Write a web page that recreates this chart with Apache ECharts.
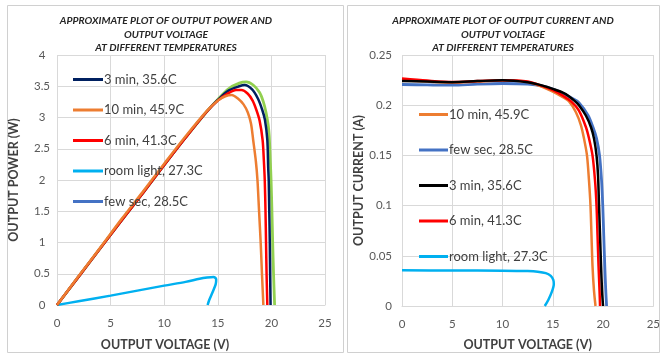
<!DOCTYPE html>
<html>
<head>
    <meta charset="utf-8" />
    <title>Output power / current vs voltage</title>
    <style>
        html, body { margin: 0; padding: 0; background: #fff; }
        #chart { width: 663px; height: 356px; }
    </style>
</head>
<body>
    <div id="chart"></div>
    <script src="https://cdn.jsdelivr.net/npm/echarts@6/dist/echarts.min.js"></script>
    <script type="text/javascript">
        // x axis ticks (both charts)
        const voltTicks = [0, 5, 10, 15, 20, 25];
        const powerTicks = [0, 0.5, 1, 1.5, 2, 2.5, 3, 3.5, 4];
        const currentTicks = [0, 0.05, 0.1, 0.15, 0.2, 0.25];

        // left chart: [voltage V, power W]
        const powerFewSec = [[0, 0], [2, 0.45], [4, 0.9], [6, 1.35], [8, 1.79], [10, 2.24], [12, 2.68], [14, 3.1], [15, 3.29], [16, 3.46], [17, 3.55], [17.65, 3.57], [18.3, 3.52], [18.9, 3.4], [19.25, 3.25], [19.5, 3.08], [19.7, 2.88], [19.8, 2.7], [19.9, 2.3], [19.97, 2.0], [20.05, 1.5], [20.12, 1.0], [20.2, 0.5], [20.3, 0]];
        const power3min = [[0, 0], [2, 0.45], [4, 0.9], [6, 1.35], [8, 1.79], [10, 2.24], [12, 2.68], [14, 3.1], [15, 3.28], [16, 3.43], [17, 3.5], [17.5, 3.52], [18.2, 3.45], [18.75, 3.3], [19.15, 3.12], [19.4, 2.96], [19.62, 2.64], [19.7, 2.2], [19.75, 2.0], [19.8, 1.5], [19.85, 1.0], [19.88, 0.5], [19.92, 0]];
        const power6min = [[0, 0], [2, 0.45], [4, 0.9], [6, 1.35], [8, 1.79], [10, 2.24], [12, 2.68], [14, 3.1], [15, 3.27], [16, 3.39], [16.7, 3.44], [17.2, 3.44], [17.8, 3.38], [18.25, 3.27], [18.6, 3.12], [18.9, 2.95], [19.18, 2.64], [19.3, 2.3], [19.38, 2.0], [19.45, 1.5], [19.5, 1.0], [19.55, 0.5], [19.62, 0]];
        const power10min = [[0, 0], [2, 0.46], [4, 0.91], [6, 1.37], [8, 1.81], [10, 2.26], [12, 2.7], [14, 3.11], [15, 3.27], [15.7, 3.34], [16.3, 3.36], [16.9, 3.3], [17.4, 3.21], [17.8, 3.08], [18.1, 2.9], [18.3, 2.64], [18.55, 2.3], [18.7, 2.0], [18.85, 1.5], [19.0, 1.0], [19.12, 0.5], [19.25, 0]];
        const powerRoom = [[0, 0], [2, 0.06], [5, 0.15], [7.5, 0.23], [10, 0.31], [12, 0.37], [13.3, 0.42], [14, 0.44], [14.6, 0.45], [14.85, 0.41], [14.8, 0.33], [14.5, 0.2], [14.2, 0.08], [14.05, 0]];

        // right chart: [voltage V, current A]
        const currFewSec = [[0, 0.2206], [2.5, 0.2202], [5, 0.2199], [7.5, 0.221], [10, 0.2216], [12.5, 0.221], [14, 0.219], [15, 0.216], [16, 0.212], [17, 0.2065], [17.6, 0.2026], [18.5, 0.19], [19.0, 0.178], [19.35, 0.167], [19.65, 0.15], [19.85, 0.125], [19.97, 0.1], [20.07, 0.07], [20.17, 0.04], [20.27, 0.015], [20.35, 0]];
        const curr3min = [[0, 0.2242], [2.5, 0.2235], [5, 0.2229], [7.5, 0.224], [10, 0.2248], [12.5, 0.2228], [14, 0.2195], [15, 0.2162], [16, 0.2125], [16.6, 0.209], [17.2, 0.204], [17.6, 0.2], [18.3, 0.1895], [18.8, 0.178], [19.1, 0.1667], [19.35, 0.15], [19.5, 0.13], [19.6, 0.1], [19.7, 0.07], [19.8, 0.04], [19.9, 0.015], [20.0, 0]];
        const curr6min = [[0, 0.2265], [2.5, 0.2245], [5, 0.2232], [7.5, 0.224], [10, 0.2248], [12.5, 0.2236], [14, 0.219], [15, 0.215], [16, 0.2095], [16.9, 0.203], [17.6, 0.1945], [18.3, 0.178], [18.6, 0.167], [18.95, 0.15], [19.2, 0.125], [19.35, 0.1], [19.45, 0.07], [19.55, 0.04], [19.65, 0.015], [19.7, 0]];
        const curr10min = [[0, 0.2248], [2.5, 0.2235], [5, 0.2225], [7.5, 0.2235], [10, 0.2245], [12.5, 0.223], [14, 0.218], [15, 0.2135], [16, 0.208], [16.6, 0.204], [17.3, 0.193], [17.8, 0.18], [18.1, 0.167], [18.4, 0.15], [18.6, 0.125], [18.75, 0.1], [18.85, 0.07], [18.95, 0.04], [19.1, 0.015], [19.25, 0]];
        const currRoom = [[0, 0.0355], [5, 0.0354], [10, 0.0352], [12.5, 0.0348], [13.5, 0.0342], [14.3, 0.0328], [14.8, 0.03], [15.05, 0.026], [15.1, 0.022], [14.9, 0.014], [14.55, 0.006], [14.2, 0]];

        const nameFew = 'few sec, 28.5C';
        const name3 = '3 min, 35.6C';
        const name6 = '6 min, 41.3C';
        const name10 = '10 min, 45.9C';
        const nameRoom = 'room light, 27.3C';

        const FONT = 'Lato, "Open Sans", sans-serif';
        const gridColor = '#d9d9d9';

        const chart = echarts.init(document.getElementById('chart'));

        function legendItem(name, color) {
            return { name: name, itemStyle: { color: color }, lineStyle: { color: color } };
        }
        function line(name, data, color, idx, width) {
            return {
                type: 'line', name: name, data: data,
                xAxisIndex: idx, yAxisIndex: idx,
                symbol: 'none', smooth: 0.3,
                lineStyle: { color: color, width: width || 2.5 },
                itemStyle: { color: color },
                animation: false
            };
        }
        function xAx(idx, gap, pad, margin) {
            return {
                type: 'value', gridIndex: idx, min: 0, max: 25, interval: 5,
                name: 'OUTPUT VOLTAGE (V)', nameLocation: 'middle', nameGap: gap,
                nameTextStyle: { fontFamily: FONT, fontWeight: 'bold', fontSize: 12.5, color: '#404040', padding: pad },
                axisLine: { lineStyle: { color: gridColor } },
                axisTick: { show: false },
                axisLabel: { fontFamily: FONT, fontSize: 11.5, color: '#595959', margin: margin,
                    customValues: voltTicks },
                splitLine: { lineStyle: { color: gridColor } }
            };
        }
        function yAx(idx, max, interval, name, gap, label) {
            return {
                type: 'value', gridIndex: idx, min: 0, max: max, interval: interval,
                name: name, nameLocation: 'middle', nameGap: gap, nameRotate: 90,
                nameTextStyle: { fontFamily: FONT, fontWeight: 'bold', fontSize: 12.5, color: '#404040' },
                axisLine: { show: false }, axisTick: { show: false },
                axisLabel: Object.assign({ fontFamily: FONT, fontSize: 11.5, color: '#595959' }, label),
                splitLine: { lineStyle: { color: gridColor } }
            };
        }
        const titleStyle = { fontFamily: FONT, fontSize: 10.3, fontWeight: 'bold', fontStyle: 'italic', color: '#262626', lineHeight: 13.6 };

        const option = {
            backgroundColor: '#fff',
            animation: false,
            graphic: [
                { type: 'rect', shape: { x: 7.5, y: 5.5, width: 336, height: 347 }, style: { fill: 'none', stroke: '#d0d0d0', lineWidth: 1 } },
                { type: 'rect', shape: { x: 347.5, y: 5.5, width: 312, height: 347 }, style: { fill: 'none', stroke: '#d0d0d0', lineWidth: 1 } }
            ],
            title: [
                {
                    text: 'APPROXIMATE PLOT OF OUTPUT POWER AND\nOUTPUT VOLTAGE\nAT DIFFERENT TEMPERATURES',
                    left: 161, top: 9, textAlign: 'center', textStyle: titleStyle
                },
                {
                    text: 'APPROXIMATE PLOT OF OUTPUT CURRENT AND\nOUTPUT VOLTAGE\nAT DIFFERENT TEMPERATURES',
                    left: 498, top: 9, textAlign: 'center', textStyle: titleStyle
                }
            ],
            legend: [
                {
                    orient: 'vertical', left: 68, top: 68, itemGap: 17.5,
                    icon: 'rect', itemWidth: 30, itemHeight: 3,
                    textStyle: { fontFamily: FONT, fontSize: 13, color: '#404040', padding: [0, 0, 0, -4] },
                    data: [legendItem(name3, '#002060'), legendItem(name10, '#ED7D31'), legendItem(name6, '#FF0000'),
                        legendItem(nameRoom, '#00B0F0'), legendItem(nameFew, '#4472C4')]
                },
                {
                    orient: 'vertical', left: 414, top: 103, itemGap: 22.5,
                    icon: 'rect', itemWidth: 29, itemHeight: 3,
                    textStyle: { fontFamily: FONT, fontSize: 13, color: '#404040', padding: [0, 0, 0, -4] },
                    data: [legendItem(name10, '#ED7D31'), legendItem(nameFew, '#4472C4'), legendItem(name3, '#000000'),
                        legendItem(name6, '#FF0000'), legendItem(nameRoom, '#00B0F0')]
                }
            ],
            grid: [
                { left: 57, right: 338, top: 55, bottom: 51 },
                { left: 402, right: 9, top: 55, bottom: 46 }
            ],
            xAxis: [xAx(0, 33, [0, 52, 0, 0], 12), xAx(1, 32, 0, 12)],
            yAxis: [
                yAx(0, 4, 0.5, 'OUTPUT POWER (W)', 37, { margin: 15, align: 'center' }),
                yAx(1, 0.25, 0.05, 'OUTPUT CURRENT (A)', 37, { margin: 10 })
            ],
            series: [
                line(nameRoom, powerRoom, '#00B0F0', 0),
                line(nameFew, powerFewSec, '#92D050', 0, 2.8),
                line(name3, power3min, '#002060', 0),
                line(name6, power6min, '#FF0000', 0),
                line(name10, power10min, '#ED7D31', 0),

                line(nameRoom, currRoom, '#00B0F0', 1),
                line(nameFew, currFewSec, '#4472C4', 1, 2.8),
                line(name10, curr10min, '#ED7D31', 1),
                line(name6, curr6min, '#FF0000', 1),
                line(name3, curr3min, '#000000', 1)
            ]
        };
        chart.setOption(option);
    </script>
</body>
</html>
